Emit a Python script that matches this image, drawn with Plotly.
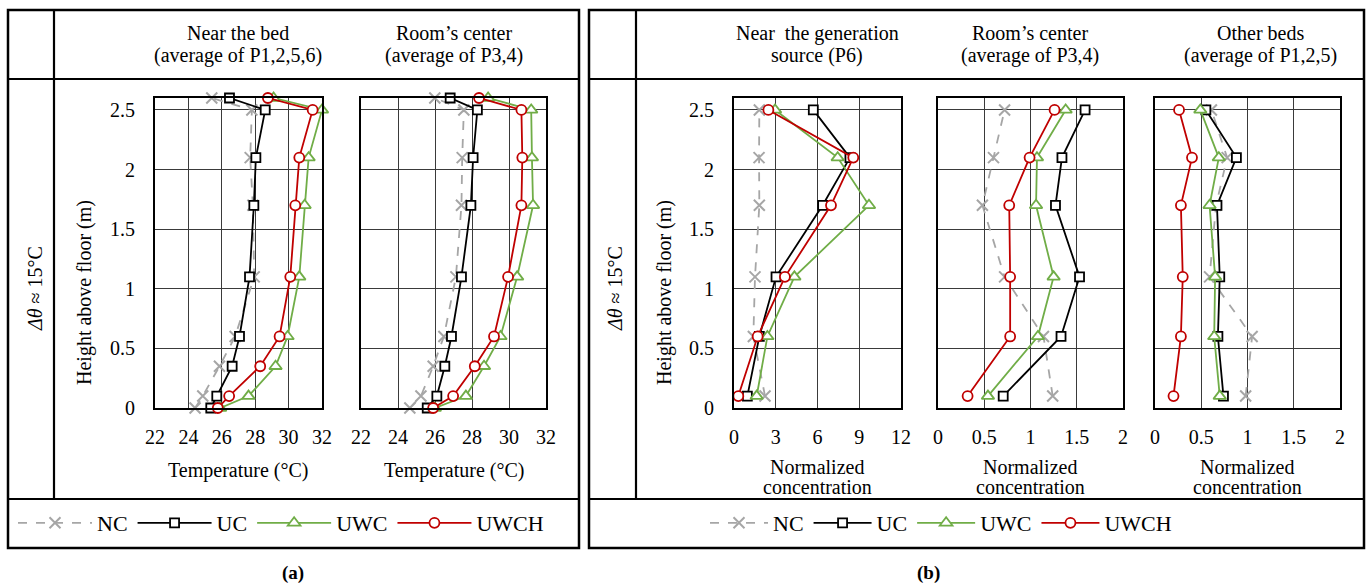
import plotly.graph_objects as go

W, H = 1368, 585
FONT = "Liberation Serif"

# ---------------- data ----------------
h_temp = [0, 0.1, 0.35, 0.6, 1.1, 1.7, 2.1, 2.5, 2.6]
h_conc = [0.1, 0.6, 1.1, 1.7, 2.1, 2.5]

# (a) Temperature near the bed (average of P1,2,5,6)
bed_NC   = [24.4, 24.86, 25.86, 26.8, 27.94, 27.86, 27.7, 27.8, 25.4]
bed_UC   = [25.34, 25.7, 26.62, 27.06, 27.66, 27.92, 28.04, 28.6, 26.46]
bed_UWC  = [25.9, 27.6, 29.22, 29.94, 30.64, 30.96, 31.2, 32.0, 29.1]
bed_UWCH = [25.76, 26.44, 28.3, 29.46, 30.1, 30.4, 30.64, 31.44, 28.76]

# (a) Temperature room's center (average of P3,4)
ctr_NC   = [24.64, 25.24, 25.9, 26.48, 27.13, 27.43, 27.47, 27.56, 25.99]
ctr_UC   = [25.58, 26.1, 26.53, 26.89, 27.43, 27.94, 28.06, 28.29, 26.82]
ctr_UWC  = [25.99, 27.67, 28.65, 29.54, 30.44, 31.3, 31.24, 31.2, 28.87]
ctr_UWCH = [25.9, 26.98, 28.15, 29.19, 29.95, 30.67, 30.72, 30.67, 28.38]

# (b) Normalized concentration near the generation source (P6)
src_NC   = [2.23, 1.39, 1.51, 1.82, 1.8, 1.82]
src_UC   = [0.96, 1.82, 3.02, 6.37, 8.33, 5.7]
src_UWC  = [1.63, 2.4, 4.34, 9.7, 7.45, 2.95]
src_UWCH = [0.31, 1.7, 3.66, 6.97, 8.57, 2.47]

# (b) Normalized concentration room's center (average of P3,4)
rc_NC   = [1.24, 1.14, 0.72, 0.48, 0.6, 0.72]
rc_UC   = [0.705, 1.33, 1.53, 1.27, 1.34, 1.59]
rc_UWC  = [0.54, 1.08, 1.25, 1.06, 1.07, 1.38]
rc_UWCH = [0.32, 0.78, 0.78, 0.77, 0.99, 1.26]

# (b) Normalized concentration other beds (average of P1,2,5)
ob_NC   = [0.98, 1.05, 0.59, 0.66, 0.78, 0.61]
ob_UC   = [0.74, 0.68, 0.7, 0.67, 0.88, 0.55]
ob_UWC  = [0.7, 0.64, 0.65, 0.59, 0.69, 0.49]
ob_UWCH = [0.2, 0.28, 0.3, 0.28, 0.4, 0.26]

temp_ticks = [22, 24, 26, 28, 30, 32]
src_ticks = [0, 3, 6, 9, 12]
conc_ticks = [0, 0.5, 1, 1.5, 2]
height_ticks = [0, 0.5, 1, 1.5, 2, 2.5]

series_names = ["NC", "UC", "UWC", "UWCH"]
styles = {
    "NC":   dict(line=dict(color="#a6a6a6", width=1.8, dash="dash"),
                 marker=dict(symbol="x-thin", size=11, line=dict(color="#a6a6a6", width=2))),
    "UC":   dict(line=dict(color="#000000", width=1.8),
                 marker=dict(symbol="square", size=9, color="white", line=dict(color="#000000", width=1.8))),
    "UWC":  dict(line=dict(color="#70ad47", width=1.8),
                 marker=dict(symbol="triangle-up", size=11, color="white", line=dict(color="#70ad47", width=1.8))),
    "UWCH": dict(line=dict(color="#c00000", width=1.8),
                 marker=dict(symbol="circle", size=10, color="white", line=dict(color="#c00000", width=1.8))),
}

def px(x):
    return x / W

def py(y):
    return 1 - y / H

fig = go.Figure()

panels = [
    (155, 322, [22, 32], temp_ticks, [bed_NC, bed_UC, bed_UWC, bed_UWCH], h_temp, "legend", True),
    (361, 546, [22, 32], temp_ticks, [ctr_NC, ctr_UC, ctr_UWC, ctr_UWCH], h_temp, None, False),
    (734, 901, [0, 12], src_ticks, [src_NC, src_UC, src_UWC, src_UWCH], h_conc, "legend2", True),
    (938, 1123, [0, 2], conc_ticks, [rc_NC, rc_UC, rc_UWC, rc_UWCH], h_conc, None, False),
    (1155, 1340, [0, 2], conc_ticks, [ob_NC, ob_UC, ob_UWC, ob_UWCH], h_conc, None, False),
]

Y0, Y1 = 98, 408
for i, (x0, x1, xr, xt, data, hh, leg, ylabels) in enumerate(panels):
    n = "" if i == 0 else str(i + 1)
    for name, vals in zip(series_names, data):
        st = styles[name]
        fig.add_trace(go.Scatter(
            x=vals, y=hh, mode="lines+markers", name=name,
            line=st["line"], marker=st["marker"], cliponaxis=False,
            xaxis="x" + n, yaxis="y" + n,
            showlegend=leg is not None, legend=leg if leg else "legend",
        ))
    fig.layout["xaxis" + n] = dict(
        domain=[px(x0), px(x1)], range=xr, tickvals=xt, anchor="y" + n,
        showgrid=True, gridcolor="#3a3a3a", gridwidth=1,
        showline=True, mirror=True, linecolor="black", linewidth=2,
        zeroline=False, ticks="outside", ticklen=10, tickcolor="rgba(0,0,0,0)",
        tickfont=dict(family=FONT, size=20, color="black"), automargin=False,
    )
    fig.layout["yaxis" + n] = dict(
        domain=[py(Y1), py(Y0)], range=[0, 2.6], tickvals=height_ticks, anchor="x" + n,
        showgrid=True, gridcolor="#3a3a3a", gridwidth=1,
        showline=True, mirror=True, linecolor="black", linewidth=2,
        zeroline=False, showticklabels=ylabels,
        ticks="outside" if ylabels else "", ticklen=14, tickcolor="rgba(0,0,0,0)",
        tickfont=dict(family=FONT, size=20, color="black"), automargin=False,
    )

# ---------------- frames ----------------
shapes = []
def line(x0, y0, x1, y1, w=2.2):
    shapes.append(dict(type="line", xref="paper", yref="paper",
                       x0=px(x0), y0=py(y0), x1=px(x1), y1=py(y1),
                       line=dict(color="black", width=w)))

for (L, R, D) in [(8, 579, 54), (589, 1364, 636)]:
    shapes.append(dict(type="rect", xref="paper", yref="paper",
                       x0=px(L), y0=py(548), x1=px(R), y1=py(10),
                       line=dict(color="black", width=2.5)))
    line(L, 79, R, 79)
    line(L, 499, R, 499)
    line(D, 10, D, 499)

# ---------------- annotations ----------------
ann = []
def text(x, y, s, size=20, angle=0, xanchor="center", yanchor="middle"):
    ann.append(dict(x=px(x), y=py(y), xref="paper", yref="paper", text=s,
                    showarrow=False, textangle=angle, xanchor=xanchor, yanchor=yanchor,
                    font=dict(family=FONT, size=size, color="black")))

def two_lines(x, y1, y2, s1, s2):
    text(x, y1, s1)
    text(x, y2, s2)

two_lines(238, 33, 56, "Near the bed", "(average of P1,2,5,6)")
two_lines(454, 33, 56, "Room’s center", "(average of P3,4)")
two_lines(817, 33, 56, "Near  the generation", "source (P6)")
two_lines(1030, 33, 56, "Room’s center", "(average of P3,4)")
two_lines(1260, 33, 56, "Other beds", "(average of P1,2,5)")

text(238, 470, "Temperature (°C)")
text(454, 470, "Temperature (°C)")
for cx in [817, 1030, 1247]:
    two_lines(cx, 467, 487, "Normalized", "concentration")

text(84, 293, "Height above floor (m)", angle=-90)
text(664, 293, "Height above floor (m)", angle=-90)
text(35, 289, "<i>Δθ</i> ≈ 15°C", angle=-90)
text(615, 289, "<i>Δθ</i> ≈ 15°C", angle=-90)

text(293, 573, "<b>(a)</b>", size=19)
text(928, 573, "<b>(b)</b>", size=19)

legfont = dict(family=FONT, size=22, color="black")
fig.update_layout(
    width=W, height=H, margin=dict(l=0, r=0, t=0, b=0, autoexpand=False),
    paper_bgcolor="white", plot_bgcolor="white",
    shapes=shapes, annotations=ann,
    legend=dict(orientation="h", x=px(13), y=py(523), xanchor="left", yanchor="middle",
                font=legfont, itemwidth=74, bgcolor="rgba(0,0,0,0)"),
    legend2=dict(orientation="h", x=px(705), y=py(523), xanchor="left", yanchor="middle",
                 font=legfont, itemwidth=58, bgcolor="rgba(0,0,0,0)"),
)

fig.write_html("out.html")
